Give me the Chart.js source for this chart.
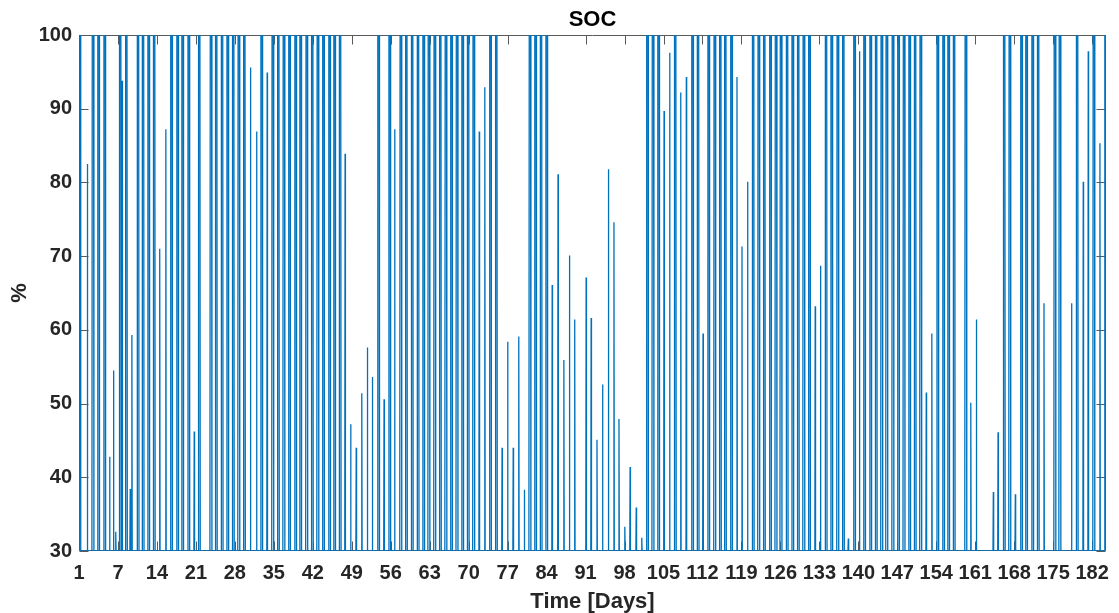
<!DOCTYPE html>
<html>
<head>
<meta charset="utf-8">
<title>SOC</title>
<script src="https://cdn.jsdelivr.net/npm/chart.js@4/dist/chart.umd.min.js"></script>
<style>
  html, body { margin: 0; padding: 0; background: #ffffff; }
  #wrap { width: 1119px; height: 613px; }
</style>
</head>
<body>
<div id="wrap"><canvas id="soc" width="1119" height="613"></canvas></div>
<script>
// Battery state of charge: one charging event per entry (time in days, peak SOC in %)
const chargeTimes = [
  0.13, 1.5, 2.5, 3.5, 4.6, 5.5, 6.2, 6.6, 7.4, 7.75,
  8.5, 9.2, 9.5, 10.6, 11.5, 12.5, 13.5, 14.5, 15.6, 16.6,
  17.7, 18.6, 19.7, 20.7, 21.6, 23.7, 24.65, 25.7, 26.7, 27.7,
  28.7, 29.7, 30.8, 31.9, 32.8, 33.8, 34.8, 35.8, 36.8, 37.8,
  38.9, 39.8, 40.9, 41.9, 42.9, 43.9, 45.0, 45.9, 46.9, 47.8,
  48.8, 49.8, 50.8, 51.8, 52.7, 53.8, 54.8, 55.8, 56.7, 57.8,
  58.8, 59.85, 60.9, 61.9, 62.85, 63.9, 64.9, 65.9, 66.9, 67.9,
  68.9, 69.9, 70.9, 71.9, 72.9, 73.9, 74.96, 76.0, 77.0, 78.0,
  79.0, 80.0, 81.0, 82.0, 83.0, 84.0, 85.0, 86.05, 87.1, 88.1,
  89.05, 91.1, 92.0, 93.05, 94.05, 95.1, 96.1, 97.0, 98.05, 99.0,
  100.1, 101.1, 102.1, 103.1, 104.1, 105.1, 106.1, 107.1, 108.1, 109.1,
  110.2, 111.2, 112.1, 113.1, 114.2, 115.2, 116.1, 117.2, 118.2, 119.1,
  120.1, 121.1, 122.1, 123.1, 124.2, 125.2, 126.1, 127.2, 128.2, 129.2,
  130.2, 131.2, 132.25, 133.2, 134.2, 135.2, 136.3, 137.3, 138.2, 139.3,
  140.2, 141.1, 142.2, 143.2, 144.2, 145.1, 146.2, 147.2, 148.2, 149.2,
  150.2, 151.2, 152.2, 153.2, 154.25, 155.3, 156.2, 157.2, 159.3, 160.2,
  161.2, 164.25, 165.1, 166.2, 167.2, 168.2, 169.3, 170.2, 171.3, 172.3,
  173.35, 175.3, 176.2, 178.3, 179.3, 180.4, 181.3, 182.3, 183.4, 184.4
];
const chargePeaks = [
  100, 82.5, 100, 100, 100, 42.8, 54.5, 32.6, 100, 93.8,
  100, 38.4, 59.3, 100, 100, 100, 100, 71, 87.2, 100,
  100, 100, 100, 46.2, 100, 100, 100, 100, 100, 100,
  100, 100, 95.6, 86.9, 100, 94.9, 100, 100, 100, 100,
  100, 100, 100, 100, 100, 100, 100, 100, 100, 83.9,
  47.2, 44.0, 51.4, 57.6, 53.6, 100, 50.6, 100, 87.2, 100,
  100, 100, 100, 100, 100, 100, 100, 100, 100, 100,
  100, 100, 100, 86.9, 92.9, 100, 100, 44.0, 58.4, 44.0,
  59.1, 38.3, 100, 100, 100, 100, 66.1, 81.1, 55.9, 70.1,
  61.4, 67.1, 61.6, 45.1, 52.6, 81.8, 74.6, 47.9, 33.3, 41.4,
  35.9, 31.8, 100, 100, 100, 89.7, 97.6, 100, 92.2, 94.3,
  100, 100, 59.5, 100, 100, 100, 100, 100, 94.3, 71.3,
  80.1, 100, 100, 100, 100, 100, 100, 100, 100, 100,
  100, 100, 63.2, 68.7, 100, 100, 100, 100, 31.7, 100,
  97.8, 100, 100, 100, 100, 100, 100, 100, 100, 100,
  100, 100, 51.5, 59.5, 100, 100, 100, 100, 100, 50.1,
  61.4, 38.0, 46.1, 100, 100, 37.7, 100, 100, 100, 100,
  63.6, 100, 100, 63.6, 100, 80.1, 97.8, 100, 85.3, 100
];
const socMin = 30;          // lower SOC limit (%)
const socMax = 100;         // full charge (%)
const dayTicks = [0, 7, 14, 21, 28, 35, 42, 49, 56, 63, 70, 77, 84, 91, 98, 105,
                  112, 119, 126, 133, 140, 147, 154, 161, 168, 175, 182];
const dayTickLabels = ['1', '7', '14', '21', '28', '35', '42', '49', '56', '63', '70', '77', '84', '91',
                       '98', '105', '112', '119', '126', '133', '140', '147', '154', '161', '168', '175', '182'];
const socTicks = [30, 40, 50, 60, 70, 80, 90, 100];
const dayRange = [0, 184.5];

// Charging ramp and full-charge hold durations (days)
const RAMP = 0.06;
const HOLD = 0.12;

const series = [];
chargeTimes.forEach((t, i) => {
  const p = chargePeaks[i];
  if (p >= socMax) {
    series.push({ x: t - HOLD - RAMP, y: socMin });
    series.push({ x: t - HOLD, y: socMax });
    series.push({ x: t + HOLD, y: socMax });
    series.push({ x: t + HOLD + RAMP, y: socMin });
  } else {
    series.push({ x: t - RAMP, y: socMin });
    series.push({ x: t, y: p });
    series.push({ x: t + RAMP, y: socMin });
  }
});

const AXIS_COLOR = '#262626';
const TICK_FONT = { family: '"Liberation Sans", Arial, Helvetica, sans-serif', size: 20, weight: 'bold' };
const LABEL_FONT = { family: '"Liberation Sans", Arial, Helvetica, sans-serif', size: 22, weight: 'bold', lineHeight: 1 };
const TICK_LEN = 9;

// Box around the plot with inward tick marks on all four sides
const axesBox = {
  id: 'axesBox',
  beforeDatasetsDraw(chart) {
    const { ctx, chartArea: a, scales } = chart;
    const L = Math.round(a.left) + 0.5, R = Math.round(a.right) - 0.5;
    const T = Math.round(a.top) + 0.5, B = Math.round(a.bottom) - 0.5;
    ctx.save();
    ctx.strokeStyle = '#5a5a5a';
    ctx.lineWidth = 1;
    ctx.beginPath();
    ctx.rect(L, T, R - L, B - T);
    dayTicks.forEach(v => {
      const px = Math.round(scales.x.getPixelForValue(v)) + 0.5;
      ctx.moveTo(px, B); ctx.lineTo(px, B - TICK_LEN);
      ctx.moveTo(px, T); ctx.lineTo(px, T + TICK_LEN);
    });
    socTicks.forEach(v => {
      const py = Math.round(scales.y.getPixelForValue(v)) + 0.5;
      ctx.moveTo(L, py); ctx.lineTo(L + TICK_LEN, py);
      ctx.moveTo(R, py); ctx.lineTo(R - TICK_LEN, py);
    });
    ctx.stroke();
    ctx.restore();
  }
};

new Chart(document.getElementById('soc'), {
  type: 'line',
  data: {
    datasets: [{
      data: series,
      borderColor: '#0072BD',
      borderWidth: 1.3,
      pointRadius: 0,
      tension: 0,
      fill: false,
      xAxisID: 'x',
      yAxisID: 'y'
    }]
  },
  options: {
    responsive: false,
    animation: false,
    devicePixelRatio: 1,
    parsing: false,
    normalized: true,
    layout: { padding: { left: 0, right: 10, top: 0, bottom: 0 } },
    plugins: {
      legend: { display: false },
      tooltip: { enabled: false },
      title: { display: false }
    },
    scales: {
      x: {
        type: 'linear',
        position: 'bottom',
        min: dayRange[0],
        max: dayRange[1],
        afterBuildTicks: s => { s.ticks = dayTicks.map(v => ({ value: v })); },
        afterFit: s => { s.height = 62; },
        grid: { display: false, drawTicks: false },
        border: { display: false },
        ticks: {
          autoSkip: false,
          maxRotation: 0,
          padding: 10,
          color: AXIS_COLOR,
          font: TICK_FONT,
          callback: v => dayTickLabels[dayTicks.indexOf(v)]
        },
        title: {
          display: true,
          text: 'Time [Days]',
          color: AXIS_COLOR,
          font: LABEL_FONT,
          padding: { top: 0, bottom: 0 }
        }
      },
      x2: {
        type: 'linear',
        position: 'top',
        min: dayRange[0],
        max: dayRange[1],
        afterFit: s => { s.height = 35; },
        grid: { display: false, drawTicks: false },
        border: { display: false },
        ticks: { display: false },
        title: {
          display: true,
          text: 'SOC',
          color: '#000000',
          font: LABEL_FONT,
          padding: { top: 9, bottom: 0 }
        }
      },
      y: {
        type: 'linear',
        position: 'left',
        min: socMin,
        max: socMax,
        afterBuildTicks: s => { s.ticks = socTicks.map(v => ({ value: v })); },
        afterFit: s => { s.width = 79; },
        grid: { display: false, drawTicks: false },
        border: { display: false },
        ticks: {
          padding: 7,
          color: AXIS_COLOR,
          font: TICK_FONT
        },
        title: {
          display: true,
          text: '%',
          color: AXIS_COLOR,
          font: LABEL_FONT,
          padding: { top: 9, bottom: 0 }
        }
      }
    }
  },
  plugins: [axesBox]
});
</script>
</body>
</html>
